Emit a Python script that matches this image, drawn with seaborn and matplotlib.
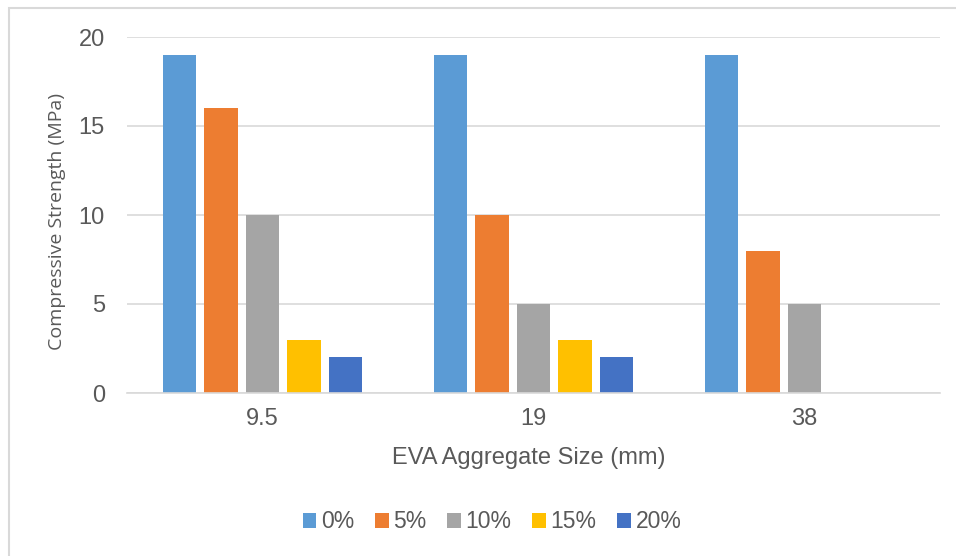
import matplotlib
matplotlib.use("Agg")
import matplotlib.pyplot as plt
import seaborn as sns
import pandas as pd
import numpy as np
from matplotlib.patches import Rectangle, Patch

sizes = ["9.5", "19", "38"]
series = ["0%", "5%", "10%", "15%", "20%"]
v_0 = [19, 19, 19]
v_5 = [16, 10, 8]
v_10 = [10, 5, 5]
v_15 = [3, 3, np.nan]
v_20 = [2, 2, np.nan]
colors = ["#5B9BD5", "#ED7D31", "#A5A5A5", "#FFC000", "#4472C4"]

rows = []
for s, vals in zip(series, [v_0, v_5, v_10, v_15, v_20]):
    for c, v in zip(sizes, vals):
        rows.append({"size": c, "series": s, "value": v})
df = pd.DataFrame(rows)

sns.set_theme(style="white")
plt.rcParams["font.family"] = ["Liberation Sans", "DejaVu Sans"]
text_c = "#595959"

fig = plt.figure(figsize=(9.56, 5.56), dpi=100)
ax = fig.add_axes([127/956, 1-393/556, (940-127)/956, (393-37)/556])

sns.barplot(data=df, x="size", y="value", hue="series", order=sizes,
            hue_order=series, palette=colors, width=0.766, gap=0.2,
            saturation=1, ax=ax, legend=False, errorbar=None, linewidth=0)

ax.set_ylim(0, 20)
ax.set_xlim(-0.5, 2.5)
ax.set_yticks([0, 5, 10, 15, 20])
ax.yaxis.grid(True, color="#D9D9D9", linewidth=1.2)
ax.set_axisbelow(True)
for sp in ["top", "right", "left"]:
    ax.spines[sp].set_visible(False)
ax.spines["bottom"].set_color("#D9D9D9")
ax.spines["bottom"].set_linewidth(1.2)
ax.tick_params(axis="both", length=0, colors=text_c)
ax.tick_params(axis="y", labelsize=17, pad=16)
ax.tick_params(axis="x", labelsize=17, pad=11)
ax.set_xlabel("")
ax.set_ylabel("")

fig.text(57/956, 1-222/556, "Compressive Strength (MPa)", rotation=90,
         ha="center", va="center", fontsize=14, color=text_c,
         family=["Open Sans", "DejaVu Sans"])
fig.text(529/956, 1-458/556, "EVA Aggregate Size (mm)", ha="center",
         va="center", fontsize=17, color=text_c)

handles = [Patch(facecolor=c, edgecolor="none") for c in colors]
leg = fig.legend(handles, series, loc="center", bbox_to_anchor=(492/956, 1-522/556),
                 ncol=5, frameon=False, fontsize=16.5, handlelength=0.6,
                 handleheight=0.6, handletextpad=0.2, columnspacing=0.9,
                 labelcolor=text_c)

fig.patches.append(Rectangle((9/956, -0.1), 1.2, (1-8/556)+0.1,
                             transform=fig.transFigure, fill=False,
                             edgecolor="#D9D9D9", linewidth=1.5))

fig.savefig("out.png", dpi=100)
